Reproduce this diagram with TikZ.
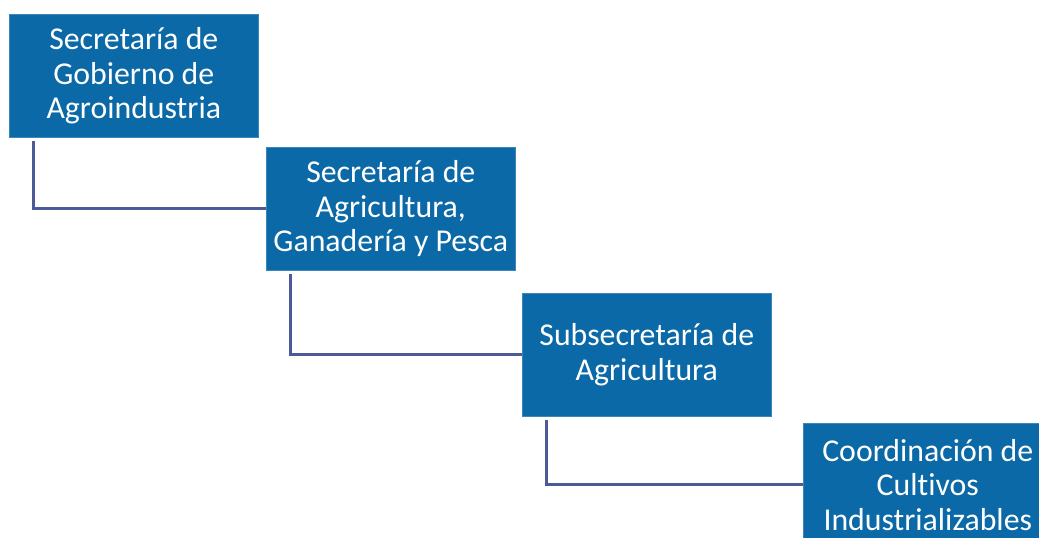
\documentclass[tikz,border=0pt]{standalone}
\usepackage{fontspec}
\setmainfont[Ligatures={NoCommon}]{Carlito}
\definecolor{boxblue}{HTML}{0A69A6}
\definecolor{linkblue}{HTML}{4C5A9A}
\begin{document}
\begin{tikzpicture}[x=1pt,y=-1pt,
  orgbox/.style={fill=boxblue, draw=boxblue!80!white, line width=0.6pt, text=white, minimum width=249pt, minimum height=123pt, anchor=north west, inner sep=0pt, align=center, font=\fontsize{31.8}{34.5}\selectfont},
  conn/.style={draw=linkblue, line width=3pt}]
\useasboundingbox (0,0) rectangle (1039,538);
\clip (0,0) rectangle (1039,538);
\node[orgbox] (b1) at (9,14) {Secretaría de\\Gobierno de\\Agroindustria};
\node[orgbox] (b2) at (266,147) {Secretaría de\\Agricultura,\\Ganadería y Pesca};
\node[orgbox] (b3) at (522,293) {Subsecretaría de\\Agricultura};
\node[orgbox] (b4) at (803,423) {Coordinación de\\Cultivos\\Industrializables};
\draw[conn] ([xshift=24pt,yshift=-3pt]b1.south west) |- (b2.west);
\draw[conn] ([xshift=24pt,yshift=-3pt]b2.south west) |- (b3.west);
\draw[conn] ([xshift=24pt,yshift=-3pt]b3.south west) |- (b4.west);
\end{tikzpicture}
\end{document}
